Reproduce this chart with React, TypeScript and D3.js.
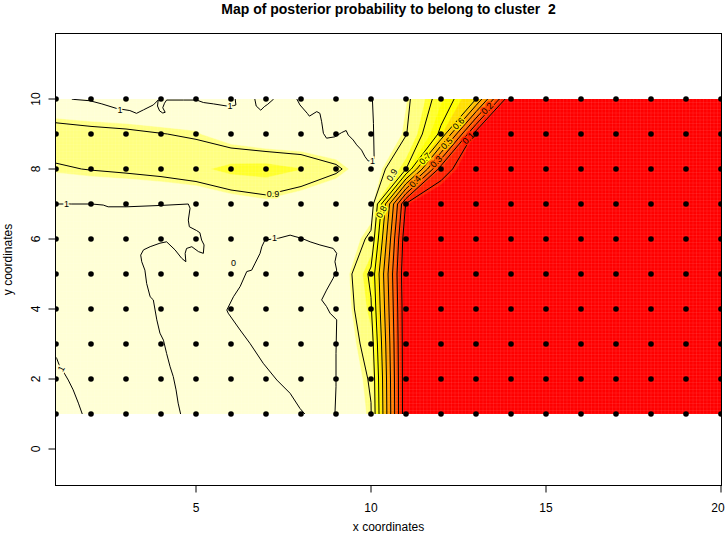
import React from "react";
import * as d3 from "d3";

// ---------- data ----------
const gridX = [1, 2, 3, 4, 5, 6, 7, 8, 9, 10, 11, 12, 13, 14, 15, 16, 17, 18, 19, 20];
const gridY = [1, 2, 3, 4, 5, 6, 7, 8, 9, 10];

// posterior probability at grid points, one array per y row (x = 1..20)
const probY10 = [0.985, 0.99, 0.99, 0.99, 0.99, 0.99, 0.99, 0.99, 0.99, 1.0, 0.92, 0.76, 0.6, 0, 0, 0, 0, 0, 0, 0];
const probY9 = [0.86, 0.875, 0.885, 0.898, 0.909, 0.96, 1.0, 1.0, 1.0, 1.0, 0.905, 0.68, 0.05, 0, 0, 0, 0, 0, 0, 0];
const probY8 = [0.908, 0.897, 0.888, 0.875, 0.85, 0.81, 0.8, 0.83, 0.885, 0.97, 0.8, 0.15, 0, 0, 0, 0, 0, 0, 0, 0];
const probY7 = [0.99, 0.99, 0.99, 0.99, 0.99, 0.96, 0.935, 0.97, 1.0, 0.96, 0.09, 0, 0, 0, 0, 0, 0, 0, 0, 0];
const probY6 = [1.0, 1.0, 1.0, 1.0, 1.0, 1.0, 1.0, 1.0, 1.0, 0.88, 0.02, 0, 0, 0, 0, 0, 0, 0, 0, 0];
const probY5 = [1.0, 1.0, 1.0, 1.0, 1.0, 1.0, 1.0, 1.0, 1.0, 0.78, 0.0, 0, 0, 0, 0, 0, 0, 0, 0, 0];
const probY4 = [1.0, 1.0, 1.0, 1.0, 1.0, 1.0, 1.0, 1.0, 1.0, 0.81, 0.01, 0, 0, 0, 0, 0, 0, 0, 0, 0];
const probY3 = [1.0, 1.0, 1.0, 1.0, 1.0, 1.0, 1.0, 1.0, 1.0, 0.855, 0.01, 0, 0, 0, 0, 0, 0, 0, 0, 0];
const probY2 = [1.0, 1.0, 1.0, 1.0, 1.0, 1.0, 1.0, 1.0, 1.0, 0.89, 0.01, 0, 0, 0, 0, 0, 0, 0, 0, 0];
const probY1 = [1.0, 1.0, 1.0, 1.0, 1.0, 1.0, 1.0, 1.0, 0.99, 0.905, 0.01, 0, 0, 0, 0, 0, 0, 0, 0, 0];
const probRows = [probY1, probY2, probY3, probY4, probY5, probY6, probY7, probY8, probY9, probY10];

const contourLevels = [0.1, 0.2, 0.3, 0.4, 0.5, 0.6, 0.7, 0.8, 0.9];

// level-1 contour lines (noisy plateau), in data coordinates
const levelOneA: [number, number][] = [
  [1.45, 10], [1.49, 9.99], [1.97, 9.95], [2.31, 9.86], [2.73, 9.73], [3.11, 9.67], [3.3, 9.59], [3.5, 9.69],
  [3.78, 9.83], [3.92, 9.97], [3.9, 9.8], [3.96, 9.66], [4.05, 9.6], [4.12, 9.62], [4.05, 9.75], [4.1, 9.88],
  [4.16, 9.97], [4.64, 9.97], [5.02, 9.97], [5.21, 9.9], [5.5, 9.86], [5.88, 9.8], [6.07, 9.81], [6.14, 9.83], [6.12, 10],
];
const levelOneB: [number, number][] = [
  [6.68, 10], [6.72, 9.8], [6.85, 9.68], [6.95, 9.78], [7.05, 9.85], [7.22, 10],
];
const levelOneC: [number, number][] = [
  [7.88, 10], [7.97, 9.83], [8.18, 9.59], [8.24, 9.51], [8.45, 9.64], [8.54, 9.59], [8.59, 9.35], [8.64, 9.02],
  [8.73, 8.88], [8.97, 8.92], [9.16, 9.04], [9.29, 9.1], [9.35, 8.97], [9.49, 8.83], [9.59, 8.69], [9.73, 8.54],
  [9.83, 8.35], [9.92, 8.23], [10.04, 8.24], [10.09, 8.3], [10.07, 9.3], [10.04, 10],
];
const levelOneD: [number, number][] = [
  [1, 7.0], [1.45, 7.0], [2.02, 7.0], [2.35, 6.97], [2.49, 6.92], [3.02, 6.92], [4.02, 6.96], [4.78, 7.0],
  [4.83, 6.88], [4.78, 6.54], [4.81, 6.35], [5.02, 6.24], [5.11, 6.18], [5.16, 5.97], [5.23, 5.83], [5.21, 5.59],
  [5.07, 5.64], [4.88, 5.78], [4.73, 5.73], [4.69, 5.59], [4.71, 5.35], [4.59, 5.45], [4.4, 5.69], [4.16, 5.92],
  [3.97, 5.88], [3.69, 5.78], [3.5, 5.69], [3.42, 5.54], [3.45, 5.35], [3.54, 5.11], [3.59, 4.73], [3.69, 4.35],
  [3.78, 4.26], [3.88, 3.69], [3.97, 3.31], [4.07, 3.11], [4.16, 2.73], [4.26, 2.35], [4.35, 2.07], [4.43, 1.69],
  [4.49, 1.31], [4.56, 1.0],
];
const levelOneE: [number, number][] = [
  [1.0, 2.62], [1.02, 2.59], [1.11, 2.35], [1.21, 2.21], [1.35, 1.97], [1.49, 1.69], [1.64, 1.31], [1.75, 1.0],
];
const levelOneF: [number, number][] = [
  [8.11, 1.0], [7.97, 1.16], [7.69, 1.59], [7.31, 1.97], [6.92, 2.45], [6.54, 3.02], [6.26, 3.4], [5.92, 3.88],
  [5.88, 3.97], [6.07, 4.35], [6.26, 4.64], [6.45, 5.07], [6.59, 5.11], [6.69, 5.31], [6.83, 5.59], [6.88, 5.78],
  [6.97, 5.97], [7.35, 6.02], [7.69, 6.11], [7.83, 6.07], [8.02, 6.02], [8.26, 5.92], [8.54, 5.83], [8.92, 5.73],
  [9.02, 5.59], [8.97, 5.35], [9.02, 5.11], [8.92, 4.88], [8.73, 4.54], [8.59, 4.26], [8.73, 4.07], [8.83, 3.88],
  [9.02, 3.69], [9.0, 2.73], [9.0, 1.78], [8.97, 1.0],
];
const levelOneLines = [levelOneA, levelOneB, levelOneC, levelOneD, levelOneE, levelOneF];

// contour labels: text, anchor in data coords, angle of the line
const labelTexts = ["0.9", "0.9", "0.8", "0.7", "0.6", "0.5", "0.4", "0.3", "0.2", "0.1", "1", "1", "1", "1", "1", "1", "0"];
const labelX = [7.2, 10.6, 10.3, 11.54, 12.5, 12.16, 11.26, 11.86, 13.32, 12.78, 2.83, 5.97, 10.04, 1.3, 1.15, 7.24, 6.07];
const labelY = [7.3, 7.83, 6.78, 8.3, 9.3, 8.73, 7.64, 8.21, 9.73, 8.88, 9.7, 9.8, 8.24, 7.0, 2.3, 6.02, 5.31];
const labelAngle = [0, -58, -60, -45, -45, -45, -48, -45, -45, -45, 0, 0, 0, 0, -62, 0, 0];
const labelLevel = [0.9, 0.9, 0.8, 0.7, 0.6, 0.5, 0.4, 0.3, 0.2, 0.1, 1, 1, 1, 1, 1, 1, 1];

const xTicks = [5, 10, 15, 20];
const yTicks = [0, 2, 4, 6, 8, 10];

const heatColors = ["#FF0000", "#FF2000", "#FF4000", "#FF6000", "#FF8000", "#FF9F00", "#FFBF00", "#FFDF00", "#FFFF00", "#FFFF2A", "#FFFF80", "#FFFFD5"];

const titleText = "Map of posterior probability to belong to cluster  2";
const xTitle = "x coordinates";
const yTitle = "y coordinates";

// ---------- layout ----------
const W = 726;
const H = 534;
const box = { left: 55.5, right: 721.5, top: 33.5, bottom: 485.5 };
const xScale = d3.scaleLinear().domain([1, 20]).range([56, 721]);
const yScale = d3.scaleLinear().domain([0, 10]).range([449, 99]);
const font = "'Liberation Sans', Arial, Helvetica, sans-serif";

export default function App() {
  const nx = gridX.length;
  const ny = gridY.length;
  const values: number[] = [];
  probRows.forEach((row) => row.forEach((v) => values.push(v)));

  const proj = d3.geoTransform({
    point(this: any, x: number, y: number) {
      this.stream.point(xScale(x + 0.5), yScale(y + 0.5));
    },
  });
  const path = d3.geoPath(proj as any);

  const nColors = heatColors.length;
  const fillThresholds = heatColors.slice(1).map((_, i) => (i + 1) / nColors);
  const bands = d3.contours().size([nx, ny]).thresholds(fillThresholds)(values);
  const lines = d3.contours().size([nx, ny]).thresholds(contourLevels)(values);

  const lineGen = d3
    .line<[number, number]>()
    .x((d) => xScale(d[0]))
    .y((d) => yScale(d[1]));

  const colorFor = (v: number) => heatColors[Math.min(nColors - 1, Math.floor(v * nColors))];

  const ix0 = xScale(gridX[0]);
  const ix1 = xScale(gridX[nx - 1]);
  const iy0 = yScale(gridY[ny - 1]);
  const iy1 = yScale(gridY[0]);

  // raster seams of the image cells (rendering texture)
  const seamStep = 0.1;
  const seamXs = d3.range(gridX[0], gridX[nx - 1], seamStep);
  const seamYs = d3.range(gridY[0], gridY[ny - 1], seamStep);

  return (
    <svg width={W} height={H} style={{ display: "block", position: "absolute", left: 0, top: 0, background: "#fff" }}>
      <defs>
        <clipPath id="imgclip">
          <rect x={ix0} y={iy0} width={ix1 - ix0} height={iy1 - iy0} />
        </clipPath>
        <clipPath id="plotclip">
          <rect x={box.left} y={box.top} width={box.right - box.left} height={box.bottom - box.top} />
        </clipPath>
      </defs>
      <rect x={0} y={0} width={W} height={H} fill="#fff" />
      <g clipPath="url(#imgclip)">
        <rect x={ix0} y={iy0} width={ix1 - ix0} height={iy1 - iy0} fill={heatColors[0]} />
        {bands.map((b, i) => (
          <path key={"b" + i} d={path(b as any) || ""} fill={heatColors[i + 1]} stroke={heatColors[i + 1]} strokeWidth={0.5} />
        ))}
        <g stroke="#fff" strokeOpacity={0.13} strokeWidth={0.6}>
          {seamXs.map((s, i) => (
            <line key={"sx" + i} x1={xScale(s)} x2={xScale(s)} y1={iy0} y2={iy1} />
          ))}
          {seamYs.map((s, i) => (
            <line key={"sy" + i} x1={ix0} x2={ix1} y1={yScale(s)} y2={yScale(s)} />
          ))}
        </g>
        {lines.map((l, i) => (
          <path key={"l" + i} d={path(l as any) || ""} fill="none" stroke="#000" strokeWidth={1} />
        ))}
        {levelOneLines.map((ln, i) => (
          <path key={"o" + i} d={lineGen(ln) || ""} fill="none" stroke="#000" strokeWidth={1} />
        ))}
        {labelTexts.map((t, i) => {
          const px = xScale(labelX[i]);
          const py = yScale(labelY[i]);
          return (
            <text
              key={"t" + i}
              transform={`translate(${px},${py}) rotate(${labelAngle[i]})`}
              textAnchor="middle"
              dy="0.35em"
              fontFamily={font}
              fontSize={9}
              fill="#000"
              stroke={colorFor(labelLevel[i])}
              strokeWidth={3}
              style={{ paintOrder: "stroke" }}
            >
              {t}
            </text>
          );
        })}
      </g>
      <g clipPath="url(#plotclip)">
        {gridY.map((gy) =>
          gridX.map((gx) => <circle key={gx + "-" + gy} cx={xScale(gx)} cy={yScale(gy)} r={2.8} fill="#000" />)
        )}
      </g>
      <rect x={box.left} y={box.top} width={box.right - box.left} height={box.bottom - box.top} fill="none" stroke="#000" strokeWidth={1} />
      {xTicks.map((t) => (
        <g key={"xt" + t}>
          <line x1={xScale(t)} x2={xScale(t)} y1={box.bottom} y2={box.bottom + 7} stroke="#000" />
          <text x={Math.min(xScale(t), W - 8)} y={box.bottom + 26} textAnchor="middle" fontFamily={font} fontSize={12}>
            {t}
          </text>
        </g>
      ))}
      {yTicks.map((t) => (
        <g key={"yt" + t}>
          <line x1={box.left} x2={box.left - 7} y1={yScale(t)} y2={yScale(t)} stroke="#000" />
          <text transform={`translate(${box.left - 16},${yScale(t)}) rotate(-90)`} textAnchor="middle" fontFamily={font} fontSize={12}>
            {t}
          </text>
        </g>
      ))}
      <text
        x={(box.left + box.right) / 2}
        y={14}
        textAnchor="middle"
        fontFamily={font}
        fontSize={14}
        fontWeight="bold"
        style={{ whiteSpace: "pre" }}
      >
        {titleText}
      </text>
      <text x={(box.left + box.right) / 2} y={531} textAnchor="middle" fontFamily={font} fontSize={12}>
        {xTitle}
      </text>
      <text transform={`translate(12,${(box.top + box.bottom) / 2}) rotate(-90)`} textAnchor="middle" fontFamily={font} fontSize={12}>
        {yTitle}
      </text>
    </svg>
  );
}
